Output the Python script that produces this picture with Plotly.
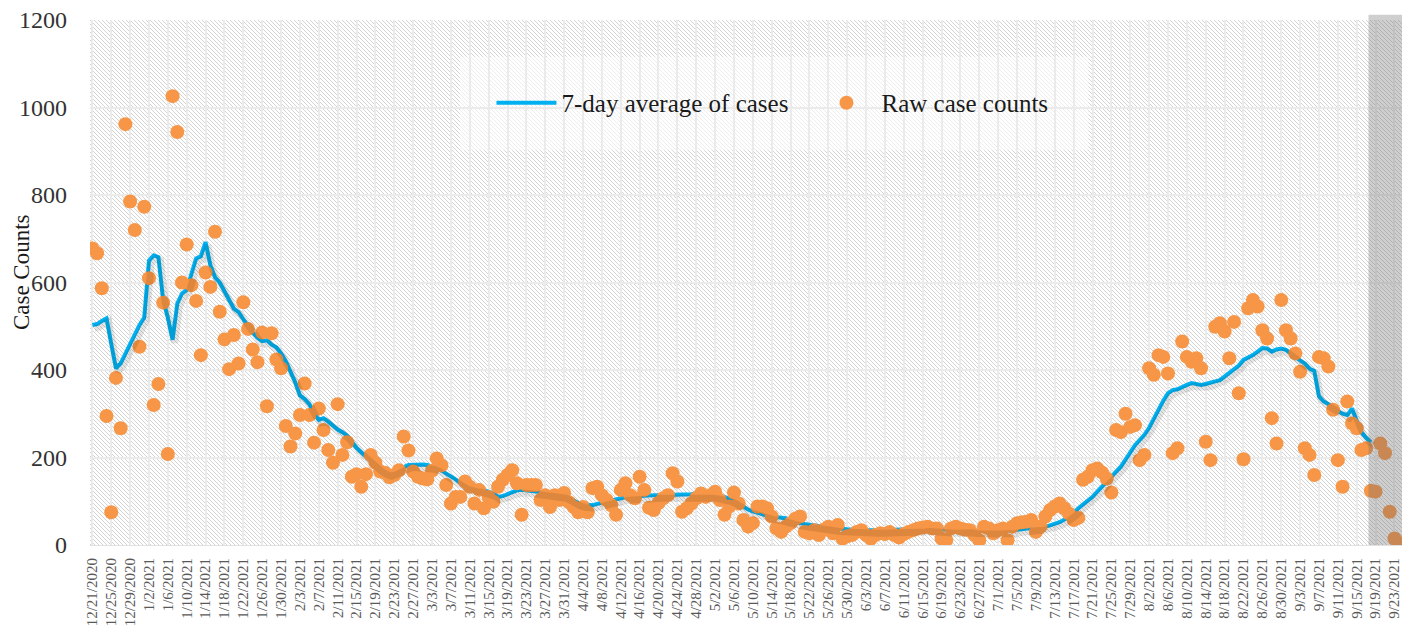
import base64
import pandas as pd
import plotly.graph_objects as go

# daily raw counts, 12/21/2020 .. 9/24/2021
raw_cases = [
    678, 667, 587, 295, 75, 382, 267, 962, 785, 720, 453, 773, 610, 320, 368, 554, 208, 1026, 944, 600,
    687, 594, 558, 434, 623, 590, 716, 533, 470, 402, 480, 415, 555, 494, 447, 418, 486, 317, 484, 424,
    404, 272, 225, 255, 297, 369, 297, 234, 312, 263, 217, 188, 322, 206, 235, 156, 162, 133, 162, 206,
    188, 168, 165, 155, 160, 171, 248, 216, 168, 156, 152, 150, 170, 198, 182, 137, 95, 110, 110, 145,
    133, 95, 126, 84, 110, 99, 133, 149, 160, 171, 141, 69, 137, 137, 137, 103, 114, 87, 114, 103,
    119, 98, 87, 75, 87, 75, 130, 133, 114, 103, 91, 69, 126, 141, 114, 107, 156, 126, 85, 80,
    96, 107, 114, 164, 145, 76, 84, 95, 107, 118, 110, 114, 122, 103, 69, 88, 120, 95, 57, 42,
    50, 88, 88, 84, 65, 38, 30, 42, 50, 60, 65, 30, 27, 34, 23, 35, 42, 27, 46, 15,
    20, 23, 30, 34, 23, 15, 23, 27, 25, 30, 23, 17, 25, 30, 34, 38, 40, 42, 38, 38,
    15, 11, 38, 42, 38, 35, 34, 23, 11, 42, 38, 27, 34, 38, 11, 42, 50, 52, 53, 57,
    30, 42, 65, 80, 88, 95, 84, 72, 57, 62, 149, 156, 171, 175, 166, 152, 120, 263, 258, 300,
    270, 274, 194, 206, 404, 389, 434, 430, 392, 210, 221, 465, 430, 419, 427, 404, 236, 194, 499, 507,
    488, 427, 510, 347, 196, 541, 560, 545, 491, 472, 290, 232, 560, 491, 472, 438, 396, 221, 206, 160,
    430, 427, 408, 309, 194, 133, 328, 278, 267, 217, 221, 124, 122, 232, 210, 76, 15, 4,
]

# 7-day average, 12/21/2020 .. 9/18/2021
avg_cases = [
    503, 505, 512, 518, 460, 404, 415, 437, 462, 484, 503, 520, 650, 662, 658, 560, 520, 469, 552, 575,
    583, 620, 655, 660, 692, 640, 612, 600, 582, 560, 540, 532, 516, 500, 485, 474, 466, 468, 458, 452,
    438, 420, 398, 372, 342, 334, 322, 300, 286, 290, 282, 272, 264, 258, 250, 236, 222, 212, 202, 192,
    182, 174, 168, 164, 168, 174, 178, 183, 184, 184, 184, 183, 180, 176, 170, 164, 158, 150, 142, 135,
    131, 129, 128, 126, 122, 118, 110, 112, 116, 122, 125, 126, 125, 124, 123, 122, 120, 118, 117, 116,
    114, 108, 100, 96, 93, 91, 91, 94, 97, 99, 102, 105, 107, 109, 110, 111, 113, 114, 114, 114,
    114, 114, 114, 114, 114, 114, 114, 116, 118, 117, 116, 114, 113, 111, 110, 106, 101, 96, 88, 81,
    77, 73, 69, 67, 65, 64, 62, 61, 57, 53, 50, 48, 46, 44, 43, 42, 41, 39, 38, 37,
    36, 35, 34, 34, 34, 34, 34, 34, 34, 34, 34, 35, 35, 36, 36, 37, 37, 38, 38, 37,
    36, 35, 34, 35, 36, 36, 35, 33, 32, 32, 33, 33, 32, 33, 32, 33, 35, 37, 38, 39,
    40, 40, 42, 45, 48, 52, 58, 65, 74, 84, 93, 102, 110, 122, 134, 145, 155, 168, 179, 195,
    213, 228, 240, 252, 268, 290, 309, 330, 347, 354, 356, 362, 366, 370, 368, 366, 368, 370, 374, 377,
    385, 392, 400, 410, 423, 428, 434, 442, 450, 449, 442, 447, 449, 446, 438, 428, 422, 415, 403, 398,
    340, 328, 322, 316, 306, 300, 297, 312, 284, 258, 245, 235,
]

start = pd.Timestamp("2020-12-21")
dates = pd.date_range(start, periods=len(raw_cases), freq="D")
avg_dates = dates[:len(avg_cases)]
tick_dates = dates[::4]
shade_start = pd.Timestamp("2021-09-17 12:00")

day = pd.Timedelta(days=1)
x_range = [start - 0.5 * day, dates[-1] + 0.6 * day]

font = "Liberation Serif"

# light diagonal hatch used as plot background
hatch_svg = (
    '<svg xmlns="http://www.w3.org/2000/svg" width="1312" height="525">'
    '<defs><pattern id="h" width="4" height="4" patternUnits="userSpaceOnUse">'
    '<path d="M-1,-1 L5,5 M-1,3 L1,5 M3,-1 L5,1" stroke="#d3d3d3" stroke-width="1"/>'
    '</pattern></defs><rect width="100%" height="100%" fill="url(#h)"/></svg>'
)
hatch_src = "data:image/svg+xml;base64," + base64.b64encode(hatch_svg.encode()).decode()

fig = go.Figure()

# soft shadow under the average line (same data, offset axes)
fig.add_trace(go.Scatter(
    x=avg_dates, y=avg_cases, mode="lines",
    line=dict(color="rgba(0,0,0,0.10)", width=7),
    xaxis="x2", yaxis="y2", showlegend=False, hoverinfo="skip",
))

fig.add_trace(go.Scatter(
    x=avg_dates, y=avg_cases, mode="lines",
    line=dict(color="#00B0F0", width=4),
    name="7-day average of cases",
))

fig.add_trace(go.Scatter(
    x=dates, y=raw_cases, mode="markers",
    marker=dict(color="#F79646", size=14),
    name="Raw case counts",
))

# page body adds an 8px margin, so the figure is sized to fit inside the window
fig.update_layout(
    width=1408, height=623,
    margin=dict(l=82, r=14, t=12, b=86),
    paper_bgcolor="white",
    plot_bgcolor="white",
    font=dict(family=font, color="#333333"),
    images=[dict(
        source=hatch_src, xref="paper", yref="paper", x=0, y=1,
        sizex=1, sizey=1, sizing="stretch", layer="below",
    )],
    xaxis=dict(
        range=x_range,
        automargin=False,
        tickvals=tick_dates,
        tickformat="%-m/%-d/%Y",
        tickangle=-90,
        tickfont=dict(size=15, color="#595959"),
        ticks="outside", ticklen=6, tickcolor="rgba(0,0,0,0)",
        showgrid=True, gridcolor="#ebebeb", gridwidth=2,
        showline=True, linecolor="#e0e0e0",
        zeroline=False,
    ),
    yaxis=dict(
        range=[0, 1200],
        automargin=False,
        dtick=200,
        tickfont=dict(size=24, color="#333333"),
        ticklabelstandoff=22,
        ticklabeloverflow="allow",
        showgrid=True, gridcolor="#ebebeb", gridwidth=2,
        zeroline=False,
    ),
    xaxis2=dict(
        overlaying="x", visible=False,
        range=[x_range[0] - 0.45 * day, x_range[1] - 0.45 * day],
    ),
    yaxis2=dict(overlaying="y", visible=False, range=[7, 1207]),
    legend=dict(
        orientation="h", x=0.306, y=0.842, xanchor="left", yanchor="middle",
        bgcolor="rgba(0,0,0,0)", font=dict(size=25, color="#1a1a1a"),
        itemwidth=60, entrywidth=245,
    ),
    shapes=[
        dict(type="rect", xref="paper", yref="paper", x0=0.282, x1=0.761, y0=0.752, y1=0.93,
             fillcolor="rgba(255,255,255,0.6)", line_width=0, layer="below"),
        dict(type="rect", xref="x", yref="paper", x0=shade_start, x1=x_range[1] + 0.5 * day,
             y0=0, y1=1.01, fillcolor="rgba(110,110,110,0.33)", line_width=0, layer="above"),
    ],
    annotations=[dict(
        text="Case Counts", textangle=-90, xref="paper", yref="paper",
        x=-0.0525, y=0.52, xanchor="center", yanchor="middle", showarrow=False,
        font=dict(size=23, color="#1a1a1a"),
    )],
)

fig.write_html("out.html")
